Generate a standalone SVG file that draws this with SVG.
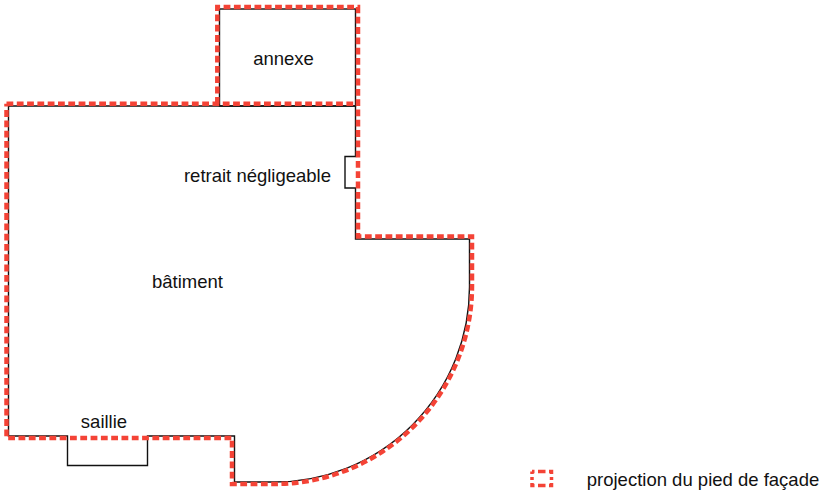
<svg xmlns="http://www.w3.org/2000/svg" width="823" height="494" viewBox="0 0 823 494">
<style>
.o{fill:none;stroke:#111;stroke-width:1.4}
.r{fill:none;stroke:#f44336;stroke-width:4.500;stroke-dasharray:6.800 3.500}
text{font-family:"Liberation Sans",Arial,sans-serif;font-size:18.500px;fill:#111;text-anchor:middle}
</style>
<rect width="823" height="494" fill="#fff"/>
<g id="batiment">
<path class="o" d="M8.500 106H355.500V156.500H345V188H355.500V239H469.500V287A195 195 0 0 1 274.500 482H234.500V436H147.500V465.500H67.500V436H8.500Z"/>
<text x="187.500" y="288">bâtiment</text>
</g>
<g id="annexe">
<rect class="o" x="219.500" y="9" width="136" height="97"/>
<text x="283.500" y="65">annexe</text>
</g>
<g id="retrait"><text x="257.500" y="181.500">retrait négligeable</text></g>
<g id="saillie"><text x="104" y="427.500">saillie</text></g>
<g id="projection">
<path class="r" d="M6.500 103.700H358M217.300 103.700V7H358V236.500H472V287A198 198 0 0 1 274 484H232V438H6.500V103.700"/>
</g>
<g id="legende">
<rect class="r" x="532" y="471.500" width="19.500" height="14" stroke-width="3.500" style="stroke-width:3.500;stroke-dasharray:2.500 3.500 7.500 3.500 5 3 3 3 5 3.500 7.500 3.500 5 3 3 3 2.500 0"/>
<text x="703" y="485.500">projection du pied de façade</text>
</g>
</svg>
